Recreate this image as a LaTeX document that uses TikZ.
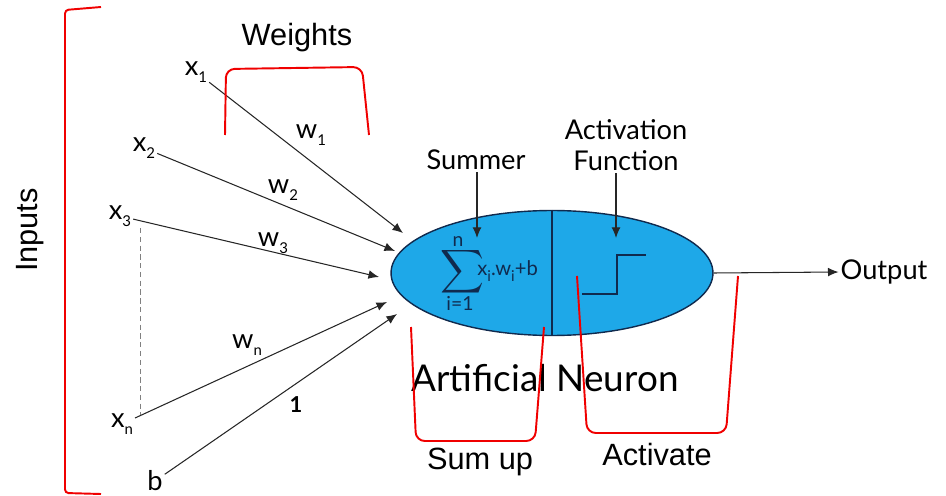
\documentclass[tikz,border=0pt]{standalone}
\usepackage{exscale}
\usepackage{fontspec}
\setmainfont{Liberation Sans}
\newfontfamily\neurofont{Lato}
\usetikzlibrary{arrows.meta, shapes.geometric, positioning}

\definecolor{neuronblue}{RGB}{30,168,232}
\definecolor{rimblue}{RGB}{16,42,78}
\definecolor{markred}{RGB}{240,0,0}

\newcommand{\lowidx}[1]{\raisebox{-0.55ex}{\fontsize{8.5}{9}\selectfont #1}}

\begin{document}
\begin{tikzpicture}[x=0.02cm, y=-0.02cm,
        conn/.style={-{Latex[length=6pt,width=5pt]}, black!85, line width=0.6pt},
        brace/.style={markred, line width=1.1pt, rounded corners=5pt},
        note/.style={font=\fontsize{17.5}{20}\selectfont},
        lab/.style={font=\neurofont\fontsize{15.5}{17}\selectfont, inner sep=1pt},
        tag/.style={font=\neurofont\fontsize{15.5}{18}\selectfont, inner sep=1pt, align=center},
        limit/.style={rimblue, font=\neurofont\fontsize{11}{11}\selectfont, inner sep=0pt}]

        \useasboundingbox (0,0) rectangle (946,496);

        % Neuron body
        \node[ellipse, draw=rimblue, thick, fill=neuronblue, minimum width=6.44cm,
              minimum height=2.5cm, inner sep=0pt] (neuron) at (552,273) {};
        \draw[rimblue, thick] (neuron.north) -- (neuron.south);

        % Summation
        \node[rimblue, inner sep=0pt] (sigma) at (462,272)
            {\fontsize{17}{17}\selectfont$\displaystyle\sum$};
        \node[limit, anchor=south] (supn) at (458,247) {n};
        \node[limit, anchor=north] (subi) at (460,296) {i=1};
        \node[rimblue, font=\neurofont\fontsize{11.5}{12}\selectfont, inner sep=0pt, anchor=west] (sumterm) at (477,271)
            {x\lowidx{i}.w\lowidx{i}+b};

        % Step function
        \draw[rimblue, line width=1.6pt] (582,294) -- (617,294) -- (617,255) -- (646,255);

        % Inputs
        \node[lab] (x1) at (196,72) {x\lowidx{1}};
        \node[lab] (x2) at (144,148) {x\lowidx{2}};
        \node[lab] (x3) at (120,216) {x\lowidx{3}};
        \node[lab] (xn) at (122,424) {x\lowidx{n}};
        \node[lab] (bias) at (155,481) {b};

        \coordinate (t1) at (403,233);
        \coordinate (t2) at (395,251);
        \coordinate (t3) at (379,277);
        \coordinate (tn) at (387,302);
        \coordinate (tb) at (397,314);

        \draw[conn] (x1) -- (t1);
        \draw[conn] (x2) -- (t2);
        \draw[conn] (x3) -- (t3);
        \draw[conn] (xn) -- (tn);
        \draw[conn] (bias) -- (tb);
        \draw[gray, densely dashed, thin] (140,228) -- (140,415);

        % Weights
        \node[lab] (w1) at (311,135) {w\lowidx{1}};
        \node[lab] (w2) at (283,190) {w\lowidx{2}};
        \node[lab] (w3) at (273,243) {w\lowidx{3}};
        \node[lab] (wn) at (247,345) {w\lowidx{n}};
        \node[lab, font=\neurofont\bfseries\fontsize{12.5}{14}\selectfont] (one) at (296,405) {1};

        % Summer and activation
        \node[tag] (summer) at (476,160) {Summer};
        \node[tag] (actf) at (626,145) {Activation\\Function};
        \coordinate (sarrow) at (477,238);
        \coordinate (aarrow) at (616,238);
        \draw[conn] (summer.south -| sarrow) -- (sarrow);
        \draw[conn] (actf.south -| aarrow) -- (aarrow);

        % Output
        \node[tag] (out) at (884,272) {Output};
        \draw[conn] (neuron.east) -- (out.west);

        \node[font=\neurofont\fontsize{21}{24}\selectfont] (title) at (545,378) {Artificial Neuron};

        % Red brackets
        \draw[brace, rounded corners=2pt] (101,7) -- (65,10) -- (65,493) -- (101,494);
        \draw[brace] (225,135) -- (226,69) -- (362,67) -- (369,135);
        \draw[brace] (411,327) -- (416,441) -- (535,441) -- (544,327);
        \draw[brace] (577,276) -- (587,433) -- (726,433) -- (738,276);

        \node[note, rotate=90] (inputs) at (30,230) {Inputs};
        \node[note] (weights) at (297,38) {Weights};
        \node[note] (sumup) at (480,462) {Sum up};
        \node[note] (activate) at (657,455) {Activate};
    \end{tikzpicture}
\end{document}
